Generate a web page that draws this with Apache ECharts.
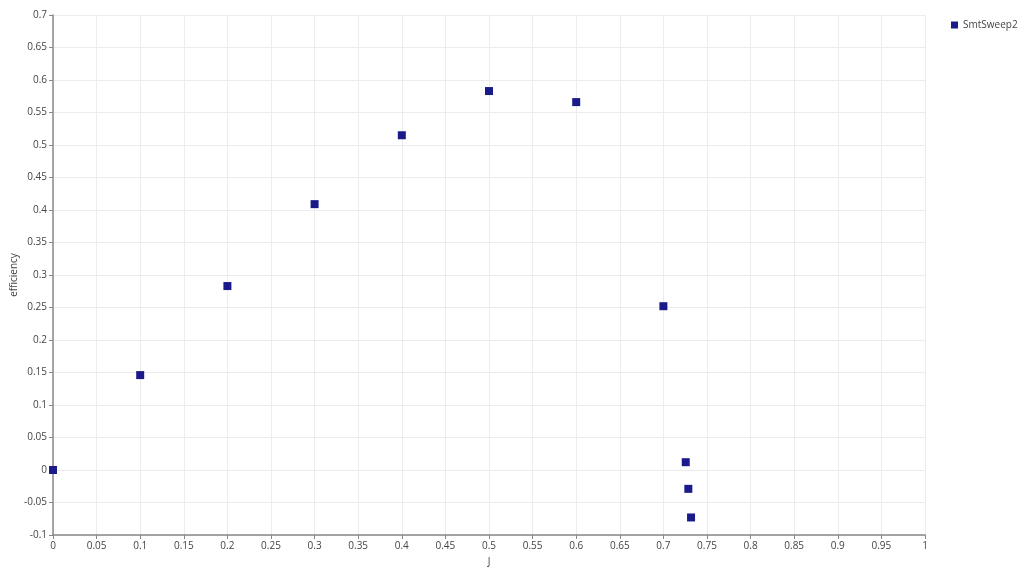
<!DOCTYPE html>
<html><head><meta charset="utf-8">
<script src="https://cdn.jsdelivr.net/npm/echarts@6/dist/echarts.min.js"></script>
<style>html,body{margin:0;padding:0;background:#fff}#c{width:1024px;height:576px}</style>
</head><body><div id="c"></div>
<script>
const seriesName = 'SmtSweep2';
const xValues = [0, 0.1, 0.2, 0.3, 0.4, 0.5, 0.6, 0.7, 0.7256, 0.7286, 0.7317];
const yValues = [0, 0.146, 0.283, 0.409, 0.515, 0.583, 0.566, 0.252, 0.012, -0.029, -0.073];
const xAxisName = 'J';
const yAxisName = 'efficiency';

const data = xValues.map((x, i) => [x, yValues[i]]);
const chart = echarts.init(document.getElementById('c'), null, {renderer: 'canvas'});
const font = '"Open Sans", "Noto Sans", sans-serif';
chart.setOption({
  animation: false,
  textStyle: {fontFamily: font},
  grid: {left: 53, right: 99, top: 15, bottom: 41, containLabel: false, outerBoundsMode: 'none'},
  legend: {
    left: 946, top: 15, orient: 'vertical', itemWidth: 7, itemHeight: 7, itemGap: 6,
    textStyle: {fontFamily: font, fontSize: 10, color: '#444'},
    data: [{name: seriesName, icon: 'rect'}]
  },
  xAxis: {
    type: 'value', min: 0, max: 1, interval: 0.05,
    name: xAxisName, nameLocation: 'middle', nameGap: 22, nameMoveOverlap: false,
    nameTextStyle: {fontFamily: font, fontSize: 10, color: '#444'},
    axisLine: {show: true, onZero: false, lineStyle: {color: '#888', width: 1.5}},
    axisTick: {show: true, length: 4, lineStyle: {color: '#888'}},
    axisLabel: {fontFamily: font, fontSize: 10, color: '#444', margin: 6},
    splitLine: {show: true, lineStyle: {color: '#ececec'}}
  },
  yAxis: {
    type: 'value', min: -0.1, max: 0.7, interval: 0.05,
    name: yAxisName, nameLocation: 'middle', nameGap: 34, nameRotate: 90, nameMoveOverlap: false,
    nameTextStyle: {fontFamily: font, fontSize: 10, color: '#444'},
    axisLine: {show: true, onZero: false, lineStyle: {color: '#888', width: 1.5}},
    axisTick: {show: true, length: 4, lineStyle: {color: '#888'}},
    axisLabel: {fontFamily: font, fontSize: 10, color: '#444', margin: 6},
    splitLine: {show: true, lineStyle: {color: '#ececec'}}
  },
  series: [{
    name: seriesName, type: 'scatter', symbol: 'rect', symbolSize: 8,
    itemStyle: {color: '#1a1a8a', opacity: 1},
    data: data
  }]
});
</script></body></html>
